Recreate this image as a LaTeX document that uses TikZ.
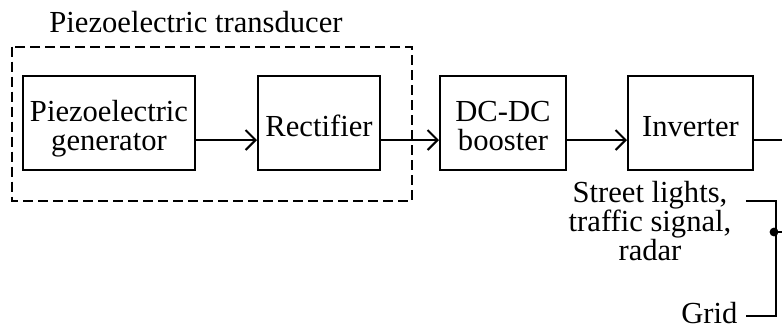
\documentclass[tikz,border=0pt]{standalone}
\usepackage{fontspec}
\setmainfont{Liberation Serif}
\usetikzlibrary{positioning,arrows.meta}
\newcommand{\bstrut}{\rule{0pt}{13.5pt}}

\begin{document}
\begin{tikzpicture}[x=0.5pt, y=-0.5pt, node distance=30pt,
  font=\fontsize{15.3}{14.3}\selectfont, line width=1pt,
  >={Straight Barb[length=5pt,width=10pt]},
  block/.style={draw, align=center, minimum height=47pt, inner sep=2pt, text depth=0pt}]
\useasboundingbox (0,0) rectangle (782,328);
\node[anchor=base] (title) at (196,32) {Piezoelectric transducer};
\node[block, minimum width=86pt] (gen) at (109,122.5) {\bstrut Piezoelectric\\generator};
\node[block, minimum width=61pt, right=30.5pt of gen] (rect) {\bstrut Rectifier};
\node[block, minimum width=63pt, right=29pt of rect] (boost) {\bstrut DC-DC\\booster};
\node[block, minimum width=62.5pt, right=of boost] (inv) {\bstrut Inverter};
\coordinate (out) at (782,140);
\draw[dash pattern=on 5pt off 2.5pt] ([xshift=-5pt, yshift=14pt] gen.north west) rectangle ([xshift=15.5pt, yshift=-15pt] rect.south east);
\draw[->] ([yshift=-8.75pt] gen.east) -- ([yshift=-8.75pt] rect.west);
\draw[->] ([yshift=-8.75pt] rect.east) -- ([yshift=-8.75pt] boost.west);
\draw[->] ([yshift=-8.75pt] boost.east) -- ([yshift=-8.75pt] inv.west);
\draw ([yshift=-8.75pt] inv.east) -- (out);
\node[align=center] (loads) at (650,221) {Street lights,\\traffic signal,\\radar};
\node[anchor=base east] (grid) at (745,323.5) {Grid};
\coordinate (jn) at (776,232);
\coordinate (side) at (782,232);
\draw ([xshift=3.5pt, yshift=10.25pt] loads.east) -| (jn) |- ([xshift=0.5pt, yshift=-1.5pt] grid.east);
\draw (jn) -- (side);
\fill ([xshift=-1pt] jn) circle (2.2pt);
\end{tikzpicture}
\end{document}
